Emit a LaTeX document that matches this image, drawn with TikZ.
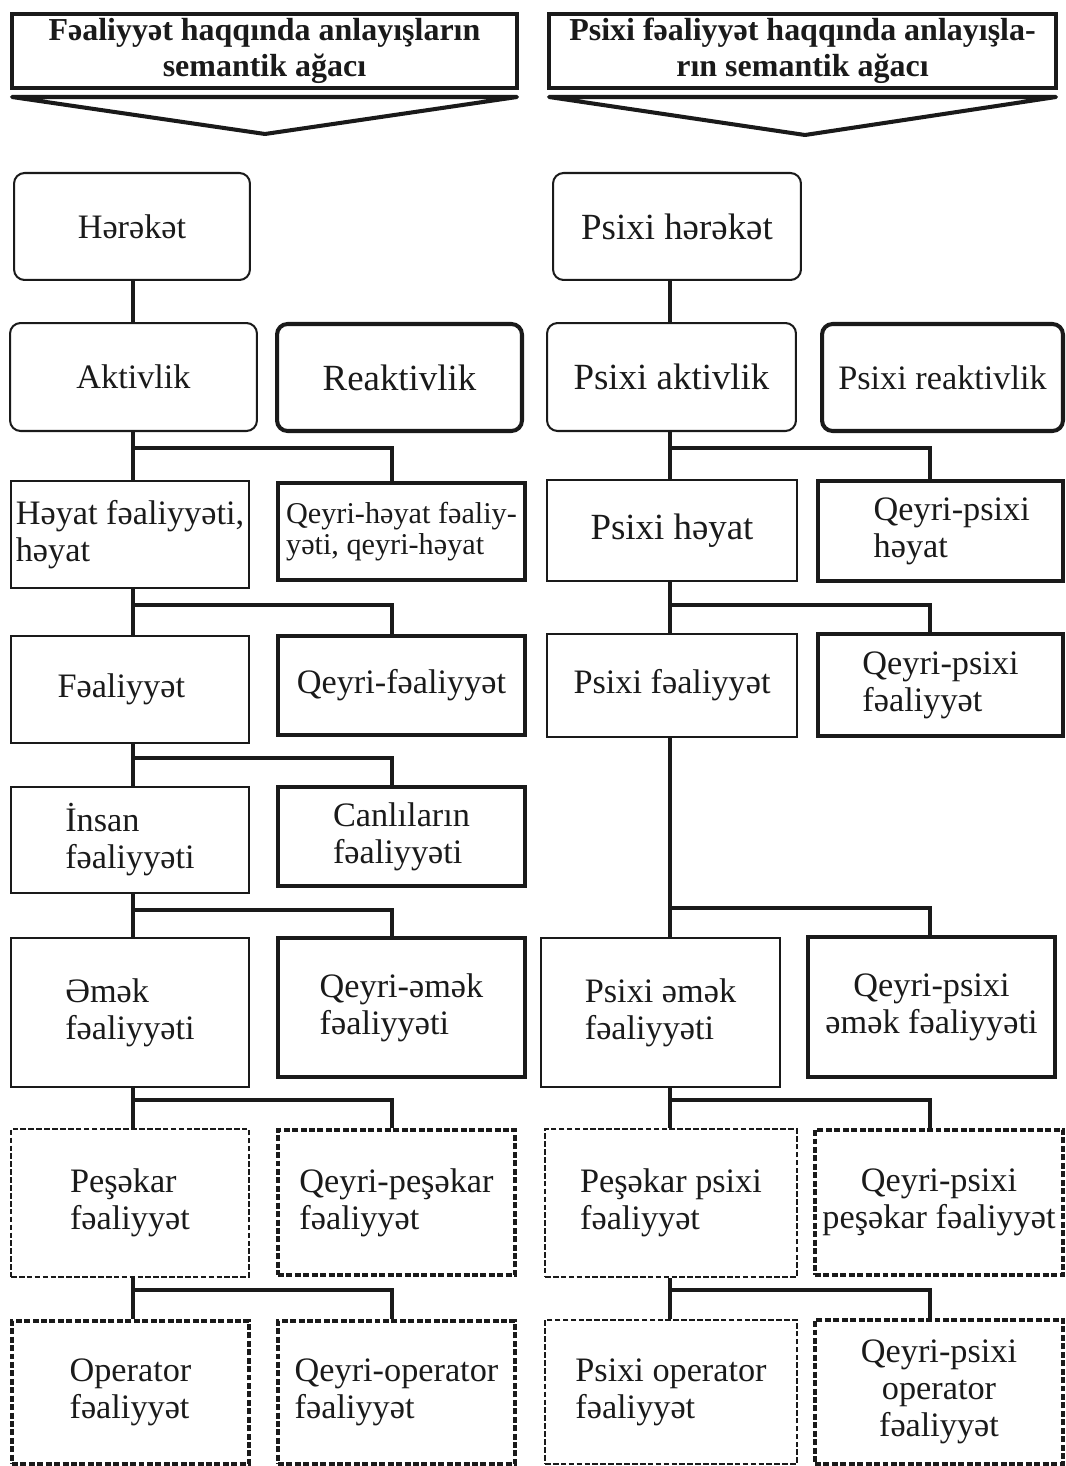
\documentclass[tikz,border=0pt]{standalone}
\usepackage{fontspec}
\setmainfont{Liberation Serif}
\usepackage{tikz}
\usetikzlibrary{positioning, calc}
\usepackage{xcolor}
\definecolor{Ink}{HTML}{1A1A1A}

\newcommand{\fsnorm}{\fontsize{19.5}{21}\selectfont}
\newcommand{\fsbig}{\fontsize{21}{23}\selectfont}
\newcommand{\fssmall}{\fontsize{17.2}{17.8}\selectfont}
\newcommand{\fshead}{\fontsize{18.2}{20.5}\selectfont\bfseries}

\tikzset{
  cell/.style={draw=Ink, line width=1.15pt, inner sep=0pt, align=left,
               text=Ink, font=\fsnorm},
  bold cell/.style={cell, line width=2.3pt},
  round cell/.style={cell, rounded corners=6pt},
  dash cell/.style={cell, dash pattern=on 3.2pt off 1.3pt},
  bold dash cell/.style={bold cell, dash pattern=on 3.4pt off 1.4pt},
  header/.style={draw=Ink, line width=2.3pt, align=center, text=Ink,
                 font=\fshead, inner sep=0pt},
  link/.style={draw=Ink, line width=2.3pt},
  chevron/.style={draw=Ink, line width=2.3pt, line join=round, line cap=round},
}

\begin{document}
\begin{tikzpicture}[x=0.02cm, y=-0.02cm]
  \useasboundingbox (0,0) rectangle (1065,1466);

  % headers
  \node[header, minimum width=10.10cm, minimum height=1.48cm] (hdrL)
      at (264.5,51) {Fəaliyyət haqqında anlayışların\\semantik ağacı};
  \node[header, minimum width=10.14cm, minimum height=1.48cm] (hdrR)
      at (802.5,51) {Psixi fəaliyyət haqqında anlayışla-\\rın semantik ağacı};
  \draw[chevron] (12,97) -- (517,97) -- (265,134) -- cycle;
  \draw[chevron] (549,97) -- (1056,97) -- (805,135) -- cycle;

  % left tree
  \node[round cell, minimum width=4.72cm, minimum height=2.14cm] (hrk)
      at (132,226.5) {Hərəkət};
  \node[round cell, minimum width=4.94cm, minimum height=2.16cm] (akt)
      at (133.5,377) {Aktivlik};
  \node[round cell, bold cell, rounded corners=6pt, font=\fsbig,
        minimum width=4.90cm, minimum height=2.14cm] (rea)
      at (399.5,377.5) {Reaktivlik};
  \node[cell, minimum width=4.76cm, minimum height=2.14cm] (hyt)
      at (130,534.5) {Həyat fəaliyyəti,\\həyat};
  \node[bold cell, font=\fssmall, minimum width=4.94cm, minimum height=1.94cm] (qhy)
      at (401.5,531.5) {Qeyri-həyat fəaliy-\\yəti, qeyri-həyat};
  \node[cell, minimum width=4.76cm, minimum height=2.14cm] (fea)
      at (130,689.5) {Fəaliyyət\hspace*{0.35cm}};
  \node[bold cell, minimum width=4.94cm, minimum height=1.98cm] (qfe)
      at (401.5,685.5) {Qeyri-fəaliyyət};
  \node[cell, minimum width=4.76cm, minimum height=2.12cm] (ins)
      at (130,840) {İnsan\\fəaliyyəti};
  \node[bold cell, minimum width=4.94cm, minimum height=1.98cm] (can)
      at (401.5,836.5) {Canlıların\\fəaliyyəti};
  \node[cell, minimum width=4.76cm, minimum height=2.98cm] (emk)
      at (130,1012.5) {Əmək\\fəaliyyəti};
  \node[bold cell, minimum width=4.94cm, minimum height=2.78cm] (qem)
      at (401.5,1007.5) {Qeyri-əmək\\fəaliyyəti};
  \node[dash cell, minimum width=4.76cm, minimum height=2.96cm] (pes)
      at (130,1203) {Peşəkar\\fəaliyyət};
  \node[bold dash cell, minimum width=4.74cm, minimum height=2.90cm] (qpe)
      at (396.5,1202.5) {Qeyri-peşəkar\\fəaliyyət};
  \node[bold dash cell, minimum width=4.74cm, minimum height=2.86cm] (opr)
      at (130.5,1392.5) {Operator\\fəaliyyət};
  \node[bold dash cell, minimum width=4.74cm, minimum height=2.86cm] (qop)
      at (396.5,1392.5) {Qeyri-operator\\fəaliyyət};

  % right tree
  \node[round cell, font=\fsbig, minimum width=4.96cm, minimum height=2.14cm] (phr)
      at (677,226.5) {Psixi hərəkət};
  \node[round cell, font=\fsbig, minimum width=4.98cm, minimum height=2.16cm] (pak)
      at (671.5,377) {Psixi aktivlik};
  \node[round cell, bold cell, rounded corners=6pt,
        minimum width=4.82cm, minimum height=2.14cm] (prk)
      at (942.5,377.5) {Psixi reaktivlik};
  \node[cell, font=\fsbig, minimum width=5.00cm, minimum height=2.02cm] (phy)
      at (672,530.5) {Psixi həyat};
  \node[bold cell, minimum width=4.90cm, minimum height=2.00cm] (qph)
      at (940.5,531) {\hspace*{0.45cm}Qeyri-psixi\\\hspace*{0.45cm}həyat};
  \node[cell, minimum width=5.00cm, minimum height=2.06cm] (pfe)
      at (672,685.5) {Psixi fəaliyyət};
  \node[bold cell, minimum width=4.90cm, minimum height=2.04cm] (qpf)
      at (940.5,685) {Qeyri-psixi\\fəaliyyət};
  \node[cell, minimum width=4.78cm, minimum height=2.98cm] (pem)
      at (660.5,1012.5) {Psixi əmək\\fəaliyyəti};
  \node[bold cell, align=center, minimum width=4.94cm, minimum height=2.80cm] (qpm)
      at (931.5,1007) {Qeyri-psixi\\əmək fəaliyyəti};
  \node[dash cell, minimum width=5.04cm, minimum height=2.96cm] (pps)
      at (671,1203) {Peşəkar psixi\\fəaliyyət};
  \node[bold dash cell, align=center, minimum width=4.96cm, minimum height=2.90cm] (qpp)
      at (939,1202.5) {Qeyri-psixi\\peşəkar fəaliyyət};
  \node[dash cell, minimum width=5.04cm, minimum height=2.88cm] (pop)
      at (671,1392) {Psixi operator\\fəaliyyət};
  \node[bold dash cell, align=center, minimum width=4.96cm, minimum height=2.88cm] (qpo)
      at (939,1392) {Qeyri-psixi\\operator\\fəaliyyət};

  % trunks and branches
  \coordinate (tL) at (133,0);
  \coordinate (bL) at (392,0);
  \coordinate (tR) at (670,0);
  \coordinate (bR) at (930,0);

  \draw[link] (hrk.south -| tL) -- (akt.north -| tL);
  \foreach \a/\b/\c/\y in {akt/hyt/qhy/448, hyt/fea/qfe/605, fea/ins/can/758,
                           ins/emk/qem/910, emk/pes/qpe/1100, pes/opr/qop/1290} {
    \draw[link] (\a.south -| tL) -- (\b.north -| tL);
    \draw[link] (tL |- 0,\y) -| (\c.north -| bL);
  }

  \draw[link] (phr.south -| tR) -- (pak.north -| tR);
  \foreach \a/\b/\c/\y in {pak/phy/qph/448, phy/pfe/qpf/605, pfe/pem/qpm/908,
                           pem/pps/qpp/1100, pps/pop/qpo/1290} {
    \draw[link] (\a.south -| tR) -- (\b.north -| tR);
    \draw[link] (tR |- 0,\y) -| (\c.north -| bR);
  }
\end{tikzpicture}
\end{document}
